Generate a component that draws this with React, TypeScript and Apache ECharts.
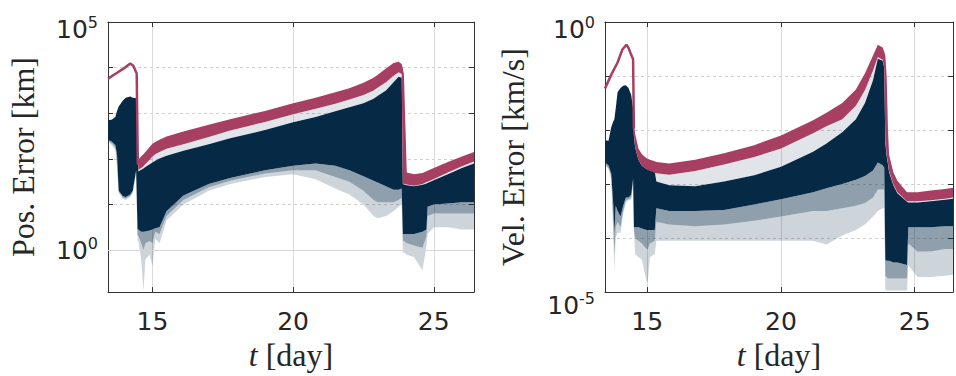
import React, { useEffect, useRef } from 'react';
import * as echarts from 'echarts';

// ---------- time grid (days) ----------
const T_MIN = 13.42;
const T_MAX = 26.43;

// ---------- Position error panel [km] ----------
const tPos = [13.42, 13.55, 13.68, 13.74, 13.8, 13.95, 14.05, 14.21, 14.3, 14.42, 14.47, 14.5, 14.6, 14.68, 14.75, 14.9, 15.0, 15.1, 15.25, 15.5, 16.1, 17.0, 17.76, 19.0, 20.0, 20.8, 21.5, 22.0, 22.5, 22.86, 23.0, 23.3, 23.57, 23.75, 23.86, 23.9, 23.94, 24.04, 24.3, 24.6, 24.74, 24.78, 25.0, 25.5, 26.0, 26.43];
const posEnsembleTop = [708, 724, 832, 1120, 1410, 1910, 2190, 2340, 2190, 2140, 2000, 52.5, 57.5, 61.7, 66.1, 75.9, 83.2, 91.2, 102, 117, 151, 209, 282, 427, 631, 832, 1100, 1350, 1660, 2090, 2400, 3160, 4790, 6310, 6030, 28.2, 27.5, 26.3, 25.1, 26.9, 28.8, 29.5, 33.9, 45.7, 63.1, 79.4];
const posDenseLow = [263, 240, 200, 126, 20, 15.1, 14.5, 16.6, 20, 56.2, 2.82, 2.82, 2.51, 2.51, 2.57, 2.69, 2.82, 3.02, 3.16, 7.08, 15.8, 28.2, 38, 56.2, 70.8, 79.4, 70.8, 56.2, 41.7, 33.1, 30.2, 25.1, 20.9, 20.9, 22.4, 2.24, 2.24, 2.24, 2.24, 2.51, 2.82, 8.91, 10, 10.5, 11.2, 11.2];
const posMidLow = [251, 219, 178, 89.1, 19.1, 14.1, 13.5, 15.5, 19.1, 52.5, 2.09, 2.09, 1.41, 1.0, 1.41, 1.58, 1.41, 2.51, 2.24, 5.62, 12.6, 24.0, 33.1, 47.9, 56.2, 56.2, 39.8, 31.6, 20.0, 12.6, 11.2, 11.2, 11.2, 12.6, 14.1, 1.58, 1.58, 1.41, 1.26, 1.12, 2.0, 5.62, 6.31, 6.31, 6.31, 6.31];
const posSparseLow = [240, 200, 158, 63.1, 17.8, 13.2, 12.6, 14.5, 17.8, 50.1, 1.58, 1.58, 0.631, 0.126, 0.631, 0.794, 0.447, 1.78, 1.41, 4.47, 10, 20, 28.2, 39.8, 45.7, 35.5, 22.4, 16.6, 10, 5.62, 5.01, 5.62, 7.08, 8.91, 10, 0.891, 0.891, 0.794, 0.708, 0.355, 1.26, 2.24, 3.16, 3.16, 2.82, 2.82];
const posRefHigh = [null, null, null, null, null, null, null, null, null, null, null, 95.5, 112, 126, 141, 182, 214, 234, 263, 309, 398, 562, 741, 1120, 1660, 2190, 2880, 3550, 4680, 6030, 6920, 9550, 12600, 13500, 12000, 9550, 7080, 50.1, 45.7, 49, 53.7, 55, 63.1, 85.1, 112, 141];
const posRefLow = [null, null, null, null, null, null, null, null, null, null, null, 57.5, 63.1, 69.2, 77.6, 95.5, 112, 126, 141, 166, 209, 302, 417, 646, 955, 1260, 1620, 2000, 2510, 3160, 3630, 4790, 6610, 7940, 7240, 28.8, 28.2, 27.5, 25.7, 28.2, 30.9, 31.6, 36.3, 50.1, 69.2, 87.1];
const tPosRefLine = [13.42, 13.7, 14.0, 14.21, 14.32, 14.44, 14.48, 14.52];
const posRefLine = [5750, 7410, 9770, 12300, 11000, 7410, 79.4, 75.9];

// ---------- Velocity error panel [km/s] ----------
const tVel = [13.42, 13.55, 13.65, 13.72, 13.77, 13.82, 13.89, 14.0, 14.1, 14.2, 14.3, 14.4, 14.47, 14.5, 14.55, 14.67, 14.8, 14.97, 15.02, 15.1, 15.28, 15.34, 15.82, 16.79, 17.87, 19.0, 20.0, 21.2, 21.7, 22.29, 22.8, 23.14, 23.44, 23.62, 23.8, 23.86, 23.9, 23.95, 24.0, 24.04, 24.2, 24.35, 24.71, 24.76, 25.1, 25.6, 26.13, 26.43];
const velEnsembleTop = [6.46e-3, 6.31e-3, 1.12e-2, 1.41e-2, 1.58e-2, 2.51e-2, 5.01e-2, 6.03e-2, 6.61e-2, 6.76e-2, 6.03e-2, 4.47e-2, 2.51e-2, 7.59e-3, 4.68e-3, 2.82e-3, 2.19e-3, 1.91e-3, 1.86e-3, 1.78e-3, 1.70e-3, 1.12e-3, 9.55e-4, 9.12e-4, 1.12e-3, 1.45e-3, 2.09e-3, 3.98e-3, 5.62e-3, 9.12e-3, 1.58e-2, 3.16e-2, 8.32e-2, 2.09e-1, 1.91e-1, 1.41e-1, 5.62e-3, 3.31e-3, 2.29e-3, 1.66e-3, 9.55e-4, 6.76e-4, 4.68e-4, 4.57e-4, 4.57e-4, 4.79e-4, 5.13e-4, 5.37e-4];
const velDenseLow = [2.51e-3, 2.24e-3, 1.58e-3, 5.01e-4, 1.26e-4, 3.98e-4, 3.16e-4, 2.51e-4, 3.98e-4, 5.62e-4, 5.62e-4, 6.31e-4, 1.26e-3, 1.58e-4, 1.58e-4, 1.58e-4, 1.51e-4, 1.41e-4, 1.41e-4, 1.41e-4, 1.41e-4, 3.55e-4, 3.16e-4, 3.16e-4, 3.31e-4, 4.17e-4, 5.25e-4, 7.08e-4, 8.32e-4, 1.0e-3, 1.2e-3, 1.41e-3, 1.78e-3, 2.51e-3, 2.24e-3, 2.0e-3, 3.98e-5, 3.8e-5, 3.8e-5, 3.8e-5, 3.55e-5, 3.55e-5, 3.16e-5, 1.58e-4, 1.58e-4, 1.58e-4, 1.66e-4, 1.66e-4];
const velMidLow = [2.34e-3, 2.0e-3, 1.41e-3, 2.51e-4, 5.01e-5, 1.58e-4, 2.0e-4, 1.58e-4, 3.16e-4, 5.01e-4, 5.25e-4, 5.62e-4, 1.12e-3, 1.41e-4, 1.0e-4, 8.91e-5, 7.94e-5, 6.31e-5, 6.31e-5, 7.94e-5, 8.91e-5, 2.0e-4, 1.78e-4, 1.66e-4, 1.78e-4, 2.09e-4, 2.51e-4, 3.16e-4, 3.16e-4, 3.55e-4, 3.98e-4, 4.47e-4, 5.62e-4, 7.94e-4, 7.94e-4, 7.94e-4, 2.0e-5, 1.91e-5, 1.78e-5, 1.78e-5, 1.78e-5, 1.78e-5, 1.78e-5, 7.94e-5, 5.62e-5, 5.62e-5, 6.31e-5, 6.31e-5];
const velSparseLow = [2.24e-3, 1.91e-3, 1.26e-3, 1.58e-4, 2.51e-5, 1.0e-4, 1.26e-4, 1.26e-4, 2.82e-4, 4.47e-4, 5.01e-4, 5.01e-4, 1.0e-3, 1.26e-4, 5.01e-5, 4.47e-5, 3.98e-5, 1.58e-5, 1.58e-5, 4.47e-5, 5.01e-5, 8.91e-5, 8.91e-5, 8.91e-5, 8.91e-5, 8.91e-5, 8.91e-5, 8.91e-5, 7.59e-5, 1.12e-4, 1.41e-4, 1.78e-4, 2.51e-4, 3.16e-4, 3.55e-4, 3.55e-4, 1.12e-5, 1.07e-5, 1.07e-5, 1.07e-5, 1.07e-5, 1.07e-5, 1.07e-5, 3.16e-5, 1.91e-5, 1.91e-5, 2.0e-5, 2.09e-5];
const velRefHigh = [null, null, null, null, null, null, null, null, null, null, null, null, null, 1.41e-2, 8.32e-3, 4.57e-3, 3.55e-3, 3.02e-3, 2.95e-3, 2.82e-3, 2.63e-3, 2.57e-3, 2.40e-3, 2.82e-3, 3.72e-3, 5.25e-3, 7.94e-3, 1.51e-2, 2.09e-2, 3.16e-2, 5.62e-2, 1.12e-1, 2.40e-1, 3.80e-1, 3.39e-1, 2.82e-1, 2.40e-1, 1.0e-1, 1.0e-2, 3.47e-3, 1.66e-3, 1.15e-3, 7.08e-4, 7.08e-4, 7.08e-4, 7.59e-4, 8.13e-4, 8.51e-4];
const velRefLow = [null, null, null, null, null, null, null, null, null, null, null, null, null, 7.94e-3, 4.68e-3, 2.82e-3, 2.19e-3, 1.86e-3, 1.82e-3, 1.74e-3, 1.62e-3, 1.58e-3, 1.48e-3, 1.74e-3, 2.29e-3, 3.16e-3, 4.57e-3, 8.71e-3, 1.17e-2, 1.58e-2, 2.82e-2, 5.50e-2, 1.26e-1, 2.24e-1, 2.0e-1, 1.41e-1, 6.31e-3, 3.55e-3, 2.40e-3, 1.74e-3, 1.0e-3, 7.08e-4, 4.79e-4, 4.79e-4, 4.79e-4, 5.01e-4, 5.37e-4, 5.62e-4];
const tVelRefLine = [13.42, 13.65, 13.89, 14.07, 14.22, 14.3, 14.37, 14.47, 14.5];
const velRefLine = [5.89e-2, 1.05e-1, 1.78e-1, 3.09e-1, 3.80e-1, 3.31e-1, 2.69e-1, 2.04e-1, 1.07e-2];

// ---------- axis settings ----------
const posRange = [0.12, 1e5];
const velRange = [1e-5, 1];
const posLabelExps = [0, 5];
const velLabelExps = [-5, 0];
const xTickLabels = [15, 20, 25];

const NAVY = '#062a46';
const RED = '#a63f61';
const TEXT = '#262626';
const SANS = 'DejaVu Sans';
const SERIF = 'Liberation Serif';

function band(xIdx: number, yIdx: number, t: number[], lo: (number | null)[], hi: (number | null)[], fill: string, z: number) {
  let first = 0;
  while (first < t.length && (lo[first] == null || hi[first] == null)) first++;
  return {
    type: 'custom',
    xAxisIndex: xIdx,
    yAxisIndex: yIdx,
    clip: true,
    silent: true,
    z,
    data: [[t[first], hi[first]]],
    renderItem: (_p: any, api: any) => {
      const children: any[] = [];
      let run: number[] = [];
      const flush = () => {
        if (run.length > 1) {
          const top = run.map((i) => api.coord([t[i], hi[i]]));
          const bottom = run.slice().reverse().map((i) => api.coord([t[i], lo[i]]));
          children.push({ type: 'polygon', shape: { points: top.concat(bottom) }, style: { fill } });
        }
        run = [];
      };
      for (let i = 0; i < t.length; i++) {
        if (lo[i] != null && hi[i] != null) run.push(i);
        else flush();
      }
      flush();
      return { type: 'group', children };
    },
  };
}

// end-of-axis labels sit a little lower than their tick, as in the reference
function expFormatter(exps: number[], shifts: Record<string, string>) {
  return (v: number) => {
    const l = Math.log10(v);
    const e = Math.round(l);
    if (Math.abs(l - e) > 1e-6 || exps.indexOf(e) < 0) return '';
    const txt = `{b|10}{s|${e}}`;
    const sp = shifts[String(e)];
    return sp ? `{${sp}| }\n${txt}` : txt;
  };
}

const labelRich = {
  b: { fontSize: 25, fontFamily: SANS, color: TEXT, lineHeight: 30 },
  s: { fontSize: 16, fontFamily: SANS, color: TEXT, lineHeight: 18, verticalAlign: 'top' },
  sp: { fontSize: 2, lineHeight: 14 },
  sp2: { fontSize: 2, lineHeight: 26 },
};

function xAxes(grid: number) {
  const common = {
    type: 'value',
    gridIndex: grid,
    min: T_MIN,
    max: T_MAX,
    minInterval: 5,
    maxInterval: 5,
    axisLine: { show: true, lineStyle: { color: '#333', width: 1 } },
    axisTick: { show: true, inside: true, length: 5, lineStyle: { color: '#333' } },
  };
  return [
    {
      ...common,
      position: 'bottom',
      splitLine: { show: true, lineStyle: { color: '#dadada', width: 1 } },
      axisLabel: {
        show: true,
        margin: 17,
        fontSize: 25,
        fontFamily: SANS,
        color: TEXT,
        formatter: (v: number) => (xTickLabels.indexOf(Math.round(v * 1000) / 1000) >= 0 ? String(v) : ''),
      },
      name: '{i|t} [day]',
      nameLocation: 'middle',
      nameGap: 42,
      nameTextStyle: {
        fontFamily: SERIF,
        fontSize: 32,
        color: TEXT,
        rich: { i: { fontFamily: SERIF, fontSize: 32, fontStyle: 'italic', color: TEXT } },
      },
    },
    { ...common, position: 'top', splitLine: { show: false }, axisLabel: { show: false } },
  ];
}

function yAxes(grid: number, range: number[], exps: number[], shifts: Record<string, string>, name: string, nameGap: number) {
  const common = {
    type: 'log',
    logBase: 10,
    gridIndex: grid,
    min: range[0],
    max: range[1],
    axisLine: { show: true, lineStyle: { color: '#333', width: 1 } },
    axisTick: { show: true, inside: true, length: 5, lineStyle: { color: '#333' } },
  };
  return [
    {
      ...common,
      position: 'left',
      splitLine: { show: true, lineStyle: { color: '#cfcfcf', width: 1, type: [3, 3] } },
      axisLabel: { show: true, margin: 10, formatter: expFormatter(exps, shifts), rich: labelRich },
      name,
      nameLocation: 'middle',
      nameGap,
      nameTextStyle: { fontFamily: SERIF, fontSize: 32, color: TEXT },
    },
    { ...common, position: 'right', splitLine: { show: false }, axisLabel: { show: false } },
  ];
}

function panelSeries(xIdx: number, yIdx: number, t: number[], top: number[], dense: number[], mid: number[], sparse: number[], rHi: (number | null)[], rLo: (number | null)[], tLine: number[], line: number[]) {
  return [
    band(xIdx, yIdx, t, top, rLo, 'rgba(6,42,70,0.12)', 2),
    band(xIdx, yIdx, t, sparse, mid, 'rgba(6,42,70,0.2)', 3),
    band(xIdx, yIdx, t, mid, dense, 'rgba(6,42,70,0.45)', 3),
    band(xIdx, yIdx, t, dense, top, NAVY, 4),
    band(xIdx, yIdx, t, rLo, rHi, RED, 5),
    {
      type: 'line',
      xAxisIndex: xIdx,
      yAxisIndex: yIdx,
      data: tLine.map((x, i) => [x, line[i]]),
      symbol: 'none',
      silent: true,
      z: 6,
      lineStyle: { color: RED, width: 2.5 },
    },
  ];
}

export default function App() {
  const ref = useRef<HTMLDivElement>(null);
  useEffect(() => {
    if (!ref.current) return;
    const chart = echarts.init(ref.current, undefined, { renderer: 'svg' });
    const option: any = {
      animation: false,
      backgroundColor: '#ffffff',
      grid: [
        { left: 108, top: 22, width: 366, height: 277 },
        { left: 605, top: 22, width: 359, height: 277 },
      ],
      xAxis: [...xAxes(0), ...xAxes(1)],
      yAxis: [
        ...yAxes(0, posRange, posLabelExps, { '5': 'sp' }, 'Pos. Error [km]', 69),
        ...yAxes(1, velRange, velLabelExps, { '0': 'sp', '-5': 'sp2' }, 'Vel. Error [km/s]', 76),
      ],
      series: [
        {
          type: 'line',
          xAxisIndex: 0,
          yAxisIndex: 0,
          data: [],
          z: 1,
          silent: true,
          markLine: {
            silent: true,
            symbol: 'none',
            label: { show: false },
            lineStyle: { color: '#d6d6d6', width: 1, type: 'solid' },
            data: [{ yAxis: 1 }],
          },
        },
        ...panelSeries(0, 0, tPos, posEnsembleTop, posDenseLow, posMidLow, posSparseLow, posRefHigh, posRefLow, tPosRefLine, posRefLine),
        ...panelSeries(2, 2, tVel, velEnsembleTop, velDenseLow, velMidLow, velSparseLow, velRefHigh, velRefLow, tVelRefLine, velRefLine),
      ],
    };
    chart.setOption(option);
    return () => chart.dispose();
  }, []);
  return <div ref={ref} style={{ position: 'fixed', left: 0, top: 0, width: 956, height: 376 }} />;
}
